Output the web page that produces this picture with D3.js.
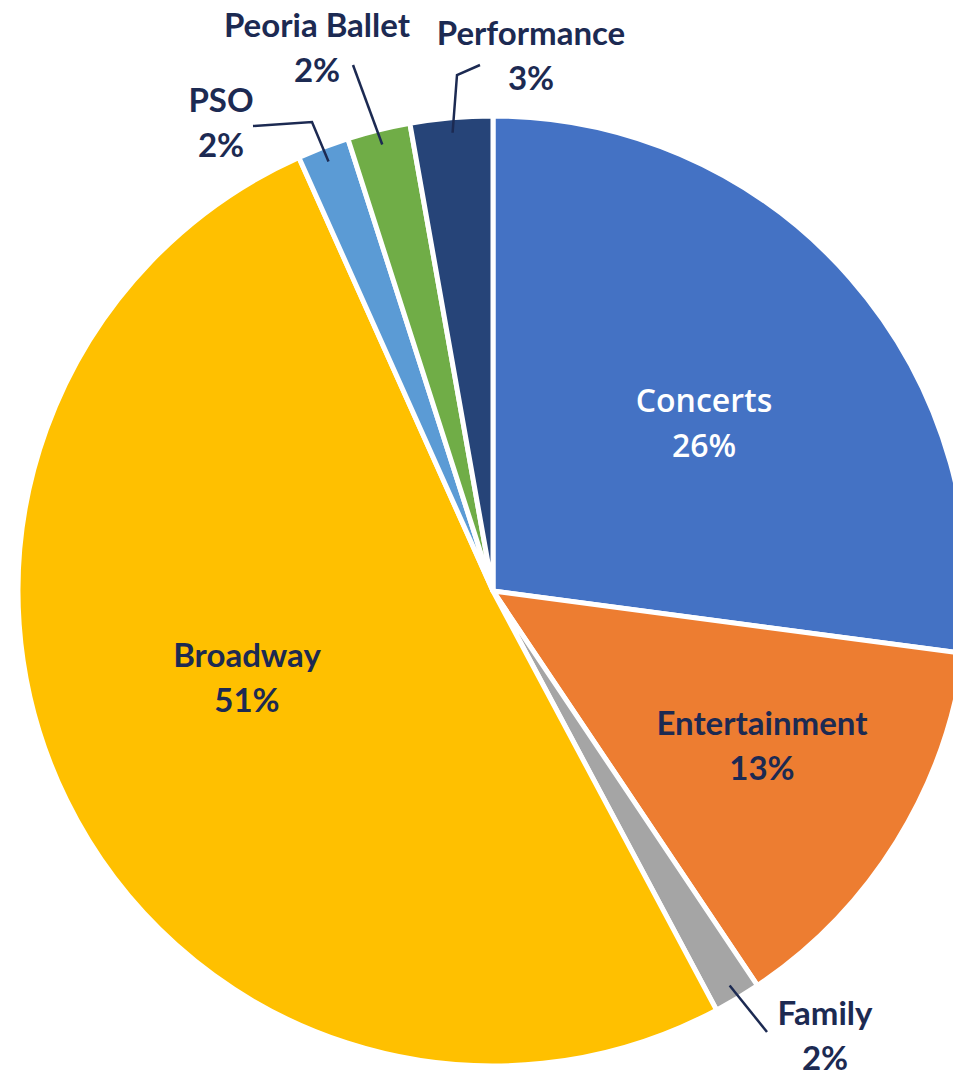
<!DOCTYPE html>
<html>
  <head>
    <meta charset="utf-8">
    <script src="https://cdn.jsdelivr.net/npm/d3@7"></script>
    <style>
      body { margin: 0; background: #ffffff; }
      #chart { width: 953px; height: 1077px; overflow: hidden; }
      .lbl { font-family: "Lato", sans-serif; font-weight: 700; font-size: 33px; fill: #1c2a52; }
      .lbl-in { font-family: "Open Sans", sans-serif; font-weight: 600; font-size: 32px; fill: #ffffff; }
    </style>
  </head>
  <body>
    <div id="chart"></div>
    <script type="text/javascript">

      // data, clockwise from 12 o'clock
      var categories = ["Concerts", "Entertainment", "Family", "Broadway", "PSO", "Peoria Ballet", "Performance"];
      var shares = [27.1, 13.5, 1.6, 51.1, 1.76, 2.14, 2.8];
      var pctLabels = ["26%", "13%", "2%", "51%", "2%", "2%", "3%"];
      var colors = ["#4472c4", "#ed7d31", "#a5a5a5", "#ffc000", "#5b9bd5", "#70ad47", "#264478"];

      // label placement (first-line baseline) and leader elbows
      var layout = {
        "Concerts":      { x: 704, y: 412, cls: "lbl-in" },
        "Entertainment": { x: 762, y: 735, cls: "lbl" },
        "Family":        { x: 825, y: 1025, cls: "lbl", leader: [[767, 1032]] },
        "Broadway":      { x: 247, y: 667, cls: "lbl" },
        "PSO":           { x: 221, y: 112, cls: "lbl", leader: [[312, 122], [253, 126]] },
        "Peoria Ballet": { x: 317, y: 37, cls: "lbl", leader: [[353, 65]] },
        "Performance":   { x: 531, y: 45, cls: "lbl", leader: [[457, 75], [480, 65]] }
      };

      var W = 953, H = 1077;
      var cx = 493, cy = 591, R = 475;

      var svg = d3.select("#chart").append("svg")
          .attr("width", W)
          .attr("height", H);

      var data = categories.map(function(c, i) {
        return { name: c, value: shares[i], pct: pctLabels[i], color: colors[i] };
      });

      var pie = d3.pie().sort(null).value(function(d) { return d.value; });
      var arc = d3.arc().innerRadius(0).outerRadius(R);
      var rimArc = d3.arc().innerRadius(460).outerRadius(460);

      var g = svg.append("g").attr("transform", "translate(" + cx + "," + cy + ")");
      var arcs = pie(data);

      g.selectAll("path.slice")
        .data(arcs)
        .enter().append("path")
          .attr("class", "slice")
          .attr("d", arc)
          .attr("fill", function(d) { return d.data.color; })
          .attr("stroke", "#ffffff")
          .attr("stroke-width", 5)
          .attr("stroke-linejoin", "round");

      // leader lines
      var line = d3.line();
      arcs.forEach(function(d) {
        var L = layout[d.data.name];
        if (!L.leader) return;
        var p = rimArc.centroid(d);
        var pts = [[p[0] + cx, p[1] + cy]].concat(L.leader);
        svg.append("path")
          .attr("d", line(pts))
          .attr("fill", "none")
          .attr("stroke", "#1c2a52")
          .attr("stroke-width", 2.5);
      });

      // labels
      arcs.forEach(function(d) {
        var L = layout[d.data.name];
        var t = svg.append("text")
          .attr("class", L.cls)
          .attr("text-anchor", "middle");
        t.append("tspan").attr("x", L.x).attr("y", L.y).text(d.data.name);
        t.append("tspan").attr("x", L.x).attr("y", L.y + 45).text(d.data.pct);
      });

    </script>
  </body>
</html>
